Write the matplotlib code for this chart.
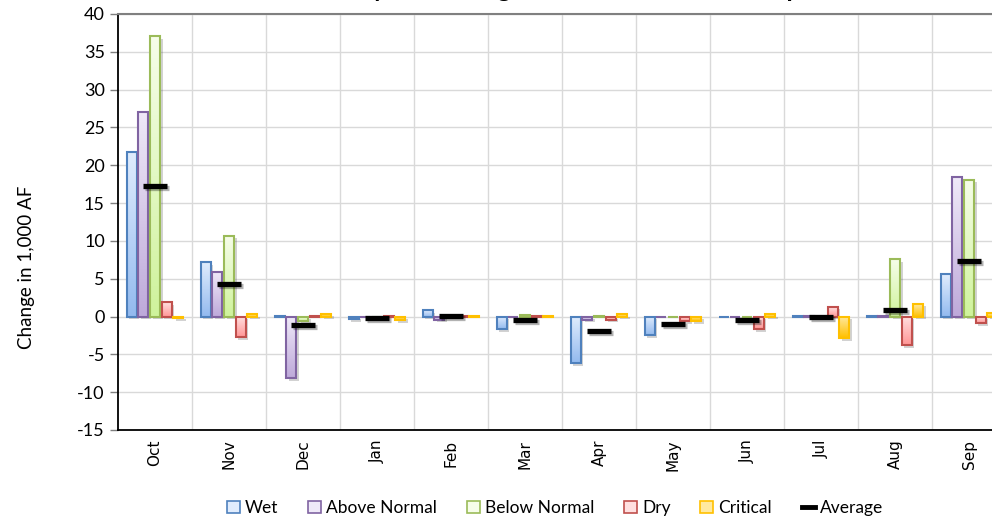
import numpy as np
import matplotlib
matplotlib.use('Agg')
import matplotlib.pyplot as plt
from matplotlib import patheffects as pe
from matplotlib.lines import Line2D
from matplotlib.patches import Patch
from matplotlib.colors import LinearSegmentedColormap

plt.rcParams['axes.unicode_minus'] = False

months = ['Oct', 'Nov', 'Dec', 'Jan', 'Feb', 'Mar', 'Apr', 'May', 'Jun', 'Jul', 'Aug', 'Sep']
wet          = [21.8,  7.2,  0.1, -0.3,  0.8, -1.7, -6.2, -2.5,  0.0,  0.1,  0.1,  5.6]
above_normal = [27.0,  5.9, -8.1,  0.0, -0.4,  0.0, -0.4,  0.0,  0.0,  0.1,  0.1, 18.4]
below_normal = [37.1, 10.7, -0.6,  0.0,  0.0,  0.2,  0.1,  0.0,  0.0,  0.0,  7.6, 18.1]
dry          = [ 1.9, -2.7,  0.1,  0.1,  0.1,  0.1, -0.4, -0.6, -1.7,  1.3, -3.8, -0.9]
critical     = [-0.2,  0.3,  0.4, -0.5,  0.1,  0.1,  0.3, -0.6,  0.3, -2.9,  1.7,  0.5]
average      = [17.3,  4.3, -1.1, -0.2,  0.1, -0.5, -1.9, -1.0, -0.4,  0.0,  0.9,  7.4]

series = [
    ('Wet', wet, '#4f81bd', '#e0ecfd', '#93baef'),
    ('Above Normal', above_normal, '#8064a2', '#efe9f8', '#bea9da'),
    ('Below Normal', below_normal, '#9bbb59', '#f6fde9', '#cff39c'),
    ('Dry', dry, '#c0504d', '#ffe0e0', '#ff9696'),
    ('Critical', critical, '#ffc000', '#ffe9a0', '#ffc000'),
]

fig = plt.figure(figsize=(9.92, 5.22), dpi=100)
ax = fig.add_axes([118 / 992, 92 / 522, 888 / 992, 416 / 522])

x = np.arange(len(months))
width = 0.135
step = 0.158
handles = []
for i, (name, vals, edge, light, dark) in enumerate(series):
    xs = x + (i - 2) * step
    # soft shadow
    ax.bar(xs, vals, width, facecolor='none', edgecolor='none', zorder=2,
           path_effects=[pe.SimplePatchShadow(offset=(2, -2), alpha=0.25)])
    bars = ax.bar(xs, vals, width, facecolor='none', edgecolor=edge, lw=1.5, zorder=3)
    cmap = LinearSegmentedColormap.from_list(name, [light, dark])
    grad = np.linspace(0, 1, 64).reshape(-1, 1)
    for b in bars:
        x0, y0 = b.get_x(), b.get_y()
        w, h = b.get_width(), b.get_height()
        if h == 0:
            continue
        top, bot = max(y0, y0 + h), min(y0, y0 + h)
        im = ax.imshow(grad, cmap=cmap, aspect='auto', origin='upper',
                       extent=(x0, x0 + w, bot, top), zorder=2.5)
        im.set_clip_path(b)
    handles.append(Patch(facecolor=light, edgecolor=edge, lw=1.2, label=name))

ax.plot(x, average, ls='none', marker='_', ms=17.5, mew=3.8, color='black', zorder=5,
        path_effects=[pe.SimpleLineShadow(offset=(1.5, -1.5), alpha=0.3), pe.Normal()])
handles.append(Line2D([], [], color='black', lw=3.5, label='Average'))

ax.set_xlim(-0.5, 11.5)
ax.set_ylim(-15, 40)
ax.set_yticks(np.arange(-15, 41, 5))
ax.set_xticks(x)
ax.set_xticklabels(months, rotation=90, family='DejaVu Sans', fontsize=11)
ax.set_xticks(x + 0.5, minor=True)
ax.tick_params(axis='x', which='both', length=0, pad=7)
ax.tick_params(axis='y', length=6, width=1, color='#7f7f7f', labelsize=13)
for lab in ax.get_yticklabels():
    lab.set_family('Lato')
ax.grid(axis='y', color='#d9d9d9', lw=1)
ax.grid(axis='x', which='minor', color='#d9d9d9', lw=1)
ax.grid(axis='x', which='major', visible=False)
ax.set_axisbelow(True)
ax.spines['left'].set_color('black')
ax.spines['bottom'].set_color('black')
ax.spines['left'].set_linewidth(1.3)
ax.spines['bottom'].set_linewidth(1.3)
ax.spines['top'].set_color('#808080')
ax.spines['top'].set_linewidth(1.5)
ax.spines['right'].set_visible(False)
ax.set_ylabel('Change in 1,000 AF', family='Lato', fontsize=13.5)
ax.yaxis.set_label_coords(-0.094, 0.39)

fig.legend(handles=handles, loc='center', bbox_to_anchor=(555 / 992, 14 / 522), ncol=6,
           frameon=False, prop={'family': 'Lato', 'size': 12.5}, handlelength=0.75,
           handleheight=0.75, handletextpad=0.3, columnspacing=1.7)

fig.text(291 / 992, 1 + 3 / 522, 'Monthly Net Change in Total South Delta Exports', ha='left',
         va='baseline', family='Lato', fontweight='bold', fontsize=18)

fig.savefig('out.png', dpi=100)
